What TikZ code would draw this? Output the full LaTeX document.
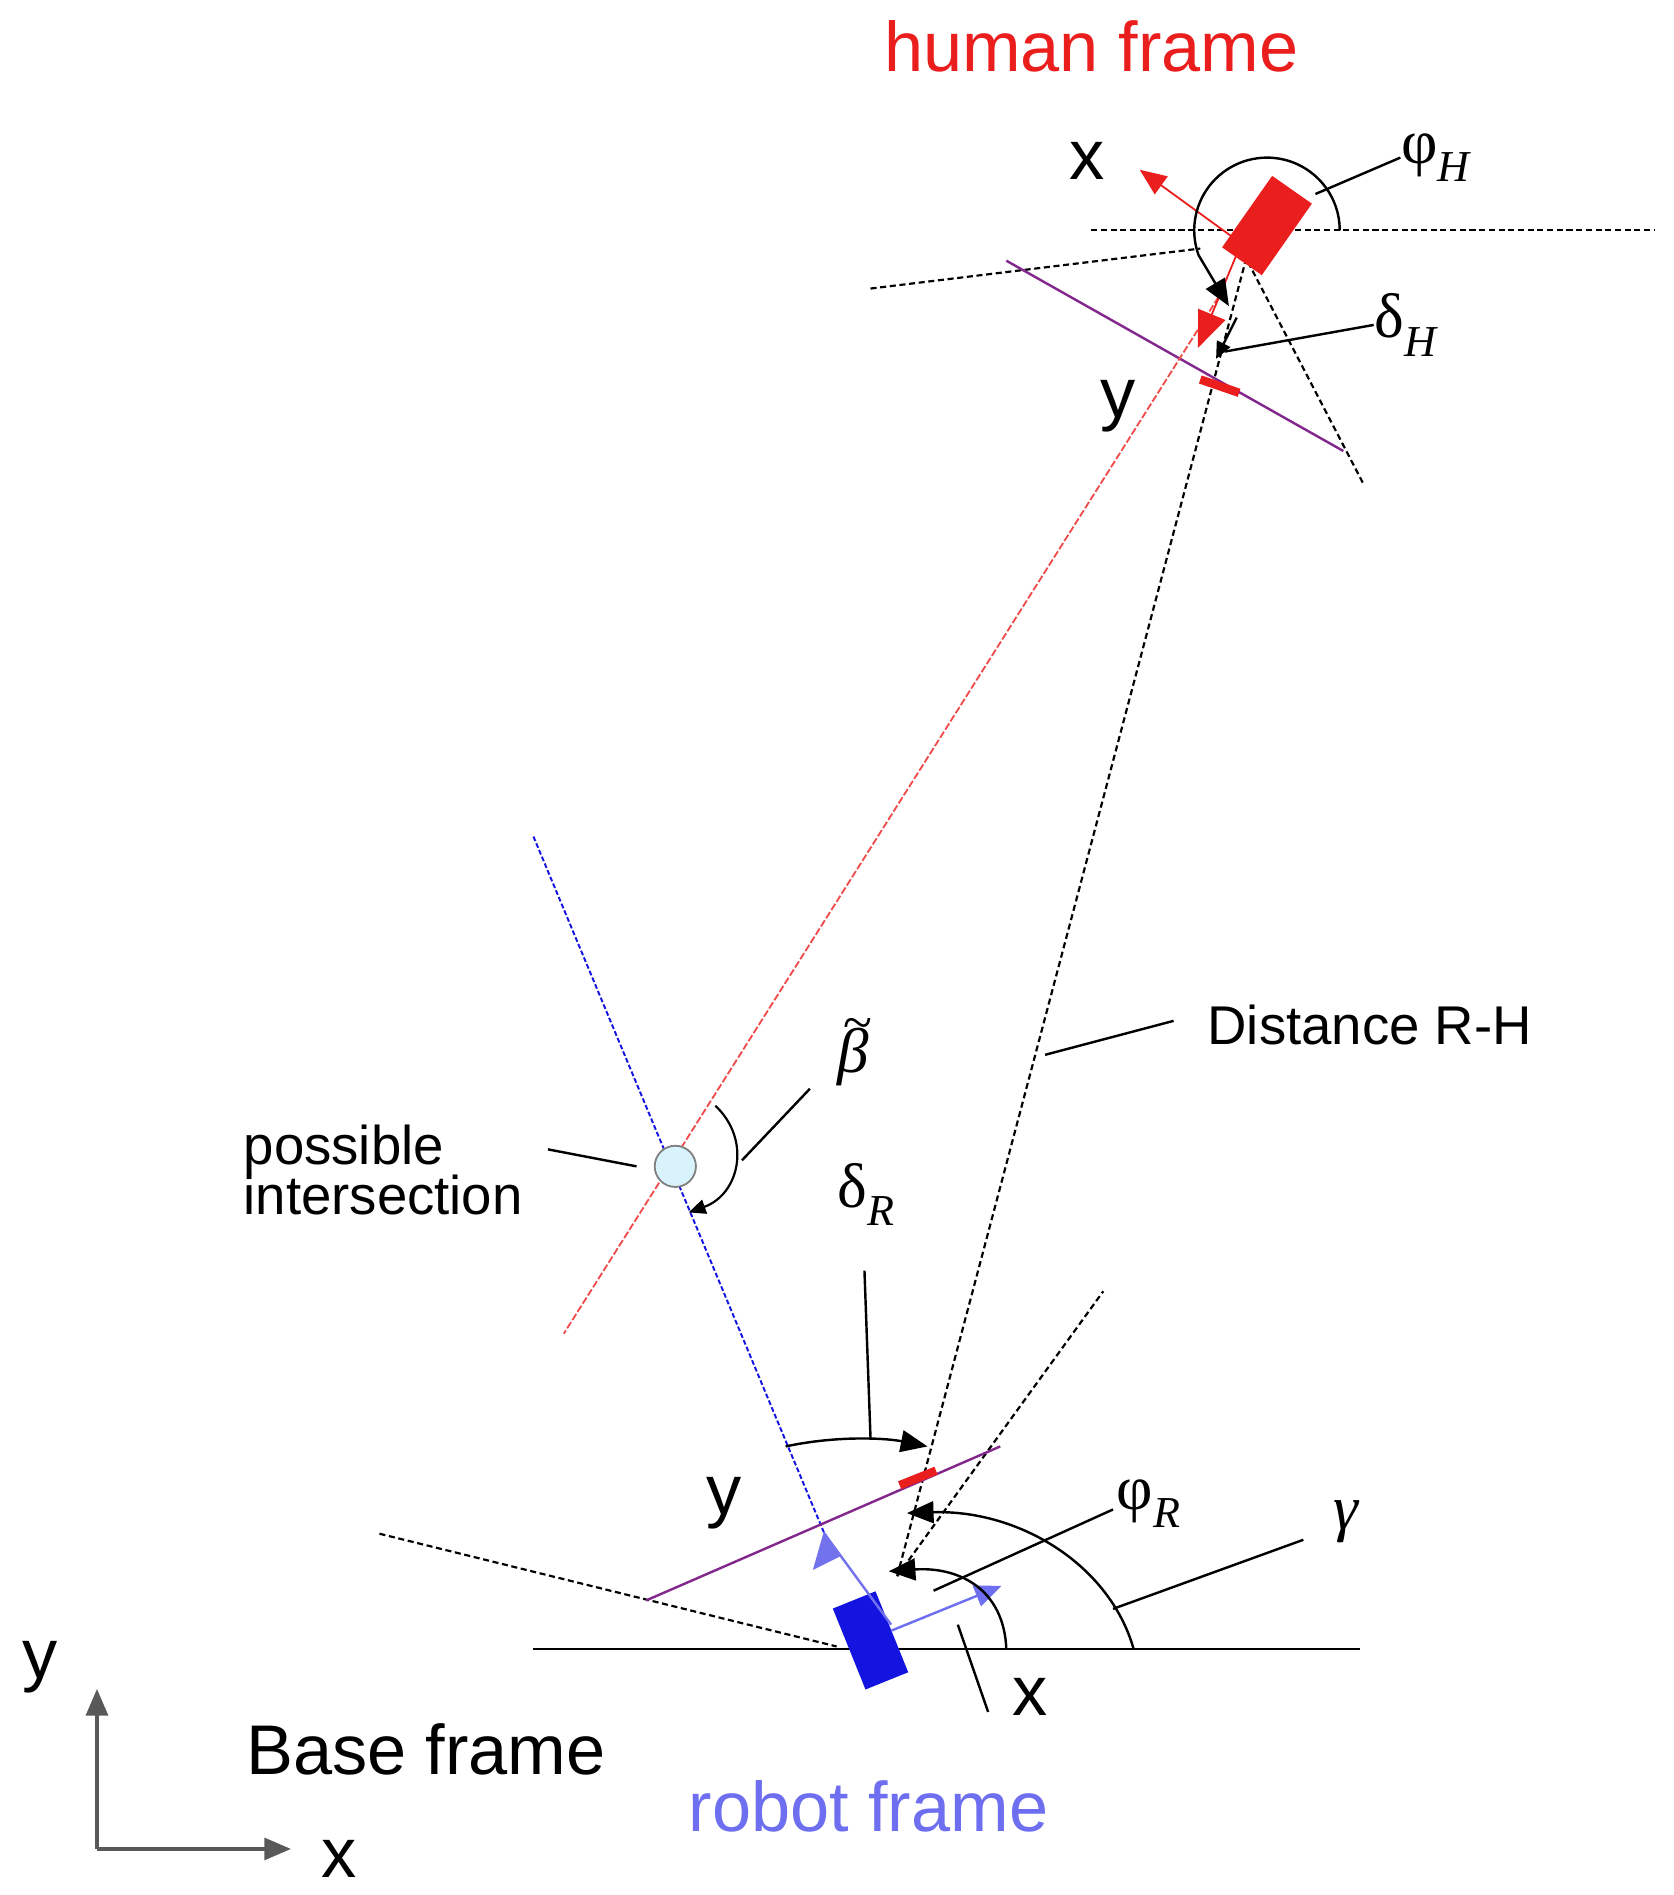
\documentclass[tikz,border=0pt]{standalone}
\usepackage{fontspec}
\setmainfont{Liberation Sans}
\newfontfamily\gr{Liberation Serif}
\usetikzlibrary{arrows.meta}
\definecolor{hred}{RGB}{235,30,30}
\definecolor{rblue}{RGB}{20,20,225}
\definecolor{lblue}{RGB}{110,110,240}
\definecolor{purp}{RGB}{130,40,140}
\begin{document}
\begin{tikzpicture}[x=1pt,y=-1pt,line width=2pt,
  lab/.style={inner sep=0pt,font=\fontsize{58}{62}\selectfont},
  sml/.style={inner sep=0pt,font=\fontsize{45}{50}\selectfont,align=left},
  grk/.style={inner sep=0pt,font=\gr\fontsize{52}{56}\selectfont},
  dsh/.style={dash pattern=on 5pt off 3pt,line width=1.8pt},
  arr/.style={-{Triangle[length=22pt,width=18pt]}},
  sarr/.style={-{Triangle[length=14pt,width=12pt]}},
  lead/.style={line width=2pt}]
\useasboundingbox (0,0) rectangle (1380,1563);
% ---- coordinates
\coordinate (H) at (1022,202);
\coordinate (R) at (740,1300);
% ---- human side
\draw[dsh] (900,190) -- (1365,190);
\draw[dsh] (718,238) -- (990,205);
\draw[dsh] (H) -- (1125,400);
\draw[dsh] (1030,205) -- (R);
\draw[purp,line width=2pt] (830,215) -- (1108,372);
\draw[hred!80,line width=1.5pt,dash pattern=on 6pt off 2pt] (1005,245) -- (465,1100);
\draw[hred,line width=7pt] (990,313) -- (1022,324);
\node[fill=hred,minimum width=40pt,minimum height=72pt,rotate=-35,inner sep=0pt] (hbox) at (1045,186) {};
\draw[hred,line width=1.5pt,arr] (1020,198) -- (940,140);
\draw[hred,line width=1.5pt,-{Triangle[length=30pt,width=24pt]}] (1022,205) -- (988,287);
\draw[line width=2pt,arr] (1105,190) arc[start angle=0,end angle=-200,radius=60] -- ++(25,42);
\draw[sarr] (1020,262) -- (1003,296);
\node[lab,hred] (hf) at (900,38) {human frame};
\node[lab] (hx) at (897,133) {x};
\node[lab] (hy) at (922,335) {y};
\node[grk,anchor=west] (phih) at (1155,130) {φ\textsubscript{\textit{H}}};
\node[grk,anchor=west] (delh) at (1133,268) {δ\textsubscript{\textit{H}}};
\draw[lead] (phih.west) -- (1085,160);
\draw[lead] (delh.west) -- (1010,290);
% ---- intersection
\draw[rblue,line width=1.6pt,dash pattern=on 4pt off 2pt] (440,690) -- (680,1265);
\node[circle,draw=gray,fill=cyan!15,minimum size=34pt,inner sep=0pt,line width=1.5pt] (pi) at (557,962) {};
\draw[line width=1.8pt,sarr] (590,912) .. controls (620,940) and (610,985) .. (568,1000);
\node[grk,align=center] (beta) at (704,868) {\hspace*{8pt}{\fontsize{44}{44}\selectfont\char"7E}\\[-30pt]\itshape β};
\draw[lead] (668,898) -- (612,957);
\node[sml,anchor=west] (pitext) at (200,965) {possible\\[-8pt]intersection};
\draw[lead] (452,948) -- (525,962);
\node[sml,anchor=west] (dist) at (995,845) {Distance R-H};
\draw[lead] (968,842) -- (862,870);
% ---- robot side
\draw (440,1360) -- (1122,1360);
\draw[dsh] (313,1265) -- (690,1358);
\draw[dsh] (R) -- (910,1065);
\draw[purp,line width=2pt] (533,1320) -- (825,1193);
\draw[hred,line width=7pt] (742,1225) -- (772,1213);
\node[fill=rblue,minimum width=38pt,minimum height=72pt,rotate=22,inner sep=0pt] (rbox) at (718,1353) {};
\draw[rblue!60,line width=2pt] (735,1340) -- (680,1265);
\draw[rblue!60,fill=rblue!60] (680,1265) -- (672,1293) -- (692,1283) -- cycle;
\draw[lblue,line width=2pt,arr] (735,1345) -- (826,1308);
\draw[line width=2pt] (713,1048) -- (718,1186);
\draw[line width=2pt,arr] (648,1193) .. controls (690,1184) and (730,1186) .. (765,1193);
\draw[line width=2pt,arr] (830,1360) .. controls (828,1310) and (790,1292) .. (733,1296);
\draw[line width=2pt,arr] (935,1360) .. controls (915,1290) and (840,1245) .. (748,1248);
\draw[lead] (918,1245) -- (770,1312);
\draw[lead] (1075,1270) -- (918,1327);
\draw[lead] (790,1340) -- (815,1412);
\node[grk,anchor=west] (delr) at (690,985) {δ\textsubscript{\textit{R}}};
\node[grk,anchor=west] (phir) at (920,1240) {φ\textsubscript{\textit{R}}};
\node[grk] (gam) at (1110,1255) {\itshape γ};
\node[lab] (rx) at (850,1400) {x};
\node[lab] (ry) at (597,1240) {y};
\node[lab,lblue,anchor=west] (rf) at (567,1490) {robot frame};
% ---- base frame
\coordinate (O) at (80,1525);
\draw[gray!70!black,line width=3pt,arr] (O) -- (80,1393);
\draw[gray!70!black,line width=3pt,arr] (O) -- (240,1525);
\node[lab] (bx) at (280,1533) {x};
\node[lab] (by) at (33,1375) {y};
\node[lab,anchor=west] (bf) at (202,1443) {Base frame};
\end{tikzpicture}
\end{document}
